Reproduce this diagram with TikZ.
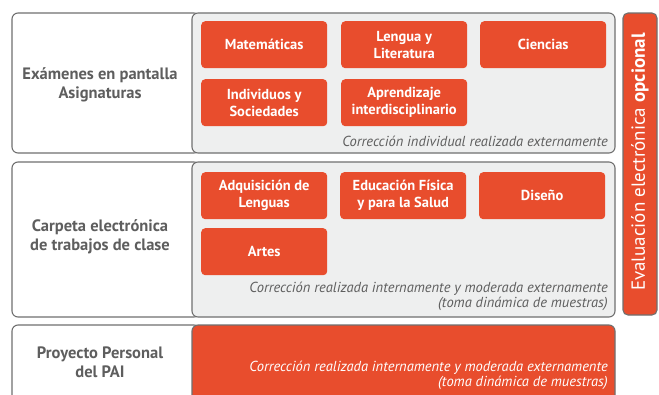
\documentclass[tikz,border=0pt]{standalone}
\usepackage{fontspec}
\setmainfont{PT Sans}
\usetikzlibrary{positioning}

\definecolor{paired}{HTML}{E84D2D}
\definecolor{panelgray}{HTML}{EEEFEF}
\definecolor{framegray}{HTML}{707070}
\definecolor{labelgray}{HTML}{5E5E5E}

\tikzset{
  rowbox/.style={draw=framegray, line width=1.1pt, rounded corners=6pt, fill=white},
  panel/.style={draw=framegray, line width=1.1pt, rounded corners=6pt, fill=panelgray},
  subject/.style={fill=paired, rounded corners=4pt, minimum width=126pt, minimum height=47pt,
    text=white, font=\bfseries\fontsize{14.5}{17}\selectfont, align=center, inner sep=0pt, anchor=north west},
  rowlabel/.style={text=labelgray, font=\bfseries\fontsize{16.5}{19}\selectfont, align=center},
  note/.style={text=labelgray, font=\itshape\fontsize{14.5}{15.5}\selectfont, align=right, inner sep=0pt},
}

\begin{document}
\begin{tikzpicture}[x=1pt,y=-1pt]
  \clip (0,0) rectangle (659,394);
  \fill[white] (0,0) rectangle (659,394);

  % row 1: on-screen examinations
  \draw[rowbox] (12,13) rectangle (200,153);
  \draw[panel] (192,13) rectangle (615,153);
  \node[rowlabel] (exams) at (100,85) {Exámenes en pantalla\\Asignaturas};
  \node[subject] (mat) at (201,21) {Matemáticas};
  \node[subject] (lit) at (341,21) {Lengua y\\Literatura};
  \node[subject] (sci) at (480,21) {Ciencias};
  \node[subject] (soc) at (201,79) {Individuos y\\Sociedades};
  \node[subject] (idu) at (341,79) {Aprendizaje\\interdisciplinario};
  \node[note, anchor=base east] (note1) at (608,146) {Corrección individual realizada externamente};

  % row 2: e-portfolio
  \draw[rowbox] (12,162) rectangle (200,317);
  \draw[panel] (192,162) rectangle (615,317);
  \node[rowlabel] (folio) at (100,237) {Carpeta electrónica\\de trabajos de clase};
  \node[subject] (lang) at (201,172) {Adquisición de\\Lenguas};
  \node[subject] (pe) at (340,172) {Educación Física\\y para la Salud};
  \node[subject] (des) at (479,172) {Diseño};
  \node[subject] (art) at (201,228) {Artes};
  \node[note, anchor=south east] (note2) at (608,311) {Corrección realizada internamente y moderada externamente\\(toma dinámica de muestras)};

  % row 3: personal project
  \draw[rowbox] (12,325) rectangle (200,405);
  \draw[draw=framegray, line width=1.1pt, rounded corners=6pt, fill=paired] (192,325) rectangle (615,405);
  \node[rowlabel] (proj) at (100,362) {Proyecto Personal\\del PAI};
  \node[note, text=white, anchor=south east] (note3) at (608,390) {Corrección realizada internamente y moderada externamente\\(toma dinámica de muestras)};

  % optional e-assessment bar
  \draw[draw=framegray, line width=1.1pt, rounded corners=5pt, fill=paired] (623,13) rectangle (657,315);
  \node[rotate=90, text=white, font=\fontsize{19}{22}\selectfont] (opt) at (640,162) {Evaluación electrónica \textbf{opcional}};
\end{tikzpicture}
\end{document}
